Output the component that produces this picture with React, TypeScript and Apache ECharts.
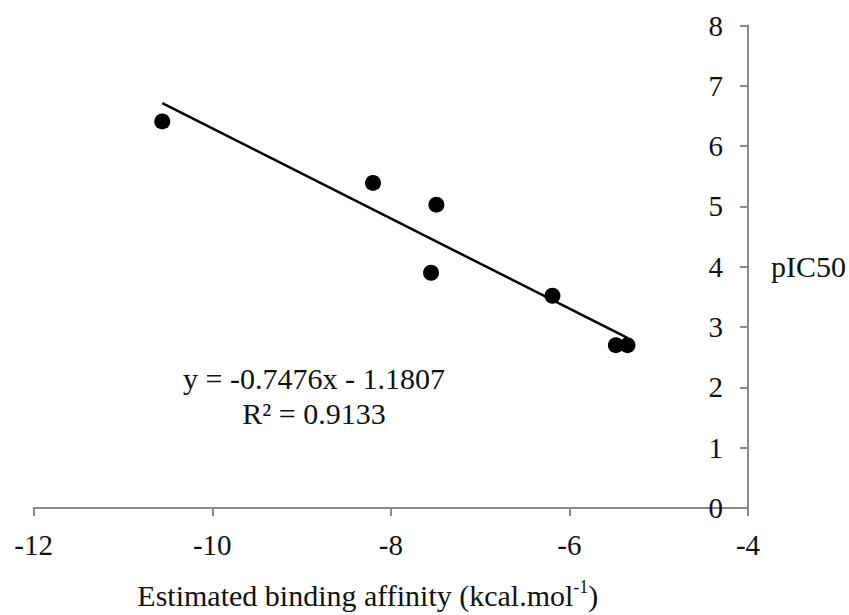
import React, { useEffect, useRef } from "react";
import * as echarts from "echarts";

const affinity = [-10.56, -8.2, -7.49, -7.55, -6.19, -5.48, -5.35];
const pIC50 = [6.41, 5.39, 5.03, 3.9, 3.52, 2.7, 2.7];
const xTicks = { min: -12, max: -4, interval: 2 };
const yTicks = { min: 0, max: 8, interval: 1 };
const trendSlope = -0.7476;
const trendIntercept = -1.1807;
const equationText = "y = -0.7476x - 1.1807";
const r2Text = "R² = 0.9133";

const FONT = '"Liberation Serif", "Times New Roman", serif';
const AXIS_COLOR = "#8a8a8a";
const TEXT_COLOR = "#111111";

export default function App() {
  const ref = useRef<HTMLDivElement>(null);
  useEffect(() => {
    if (!ref.current) return;
    const chart = echarts.init(ref.current, undefined, { renderer: "svg" });
    const xMin = Math.min(...affinity);
    const xMax = Math.max(...affinity);
    const trend = [
      [xMin, trendSlope * xMin + trendIntercept],
      [xMax, trendSlope * xMax + trendIntercept],
    ];
    chart.setOption({
      animation: false,
      backgroundColor: "#ffffff",
      grid: { left: 33.7, right: 100, top: 25.5, bottom: 103.3, containLabel: false },
      xAxis: {
        type: "value",
        min: xTicks.min,
        max: xTicks.max,
        interval: xTicks.interval,
        splitLine: { show: false },
        axisLine: { onZero: false, lineStyle: { color: AXIS_COLOR, width: 2 } },
        axisTick: { length: 8, lineStyle: { color: AXIS_COLOR, width: 2 } },
        axisLabel: { fontSize: 29, margin: 22, color: TEXT_COLOR, fontFamily: FONT },
        name: "{m|Estimated binding affinity (kcal.mol}{s|-1}{m|)}",
        nameLocation: "middle",
        nameGap: 70,
        nameTextStyle: {
          padding: [0, 46, 0, 0],
          rich: {
            m: { fontSize: 30, fontFamily: FONT, color: TEXT_COLOR, lineHeight: 34 },
            s: { fontSize: 18, fontFamily: FONT, color: TEXT_COLOR, lineHeight: 18, verticalAlign: "top" },
          },
        },
      },
      yAxis: {
        type: "value",
        position: "right",
        min: yTicks.min,
        max: yTicks.max,
        interval: yTicks.interval,
        splitLine: { show: false },
        axisLine: { onZero: false, lineStyle: { color: AXIS_COLOR, width: 2 } },
        axisTick: { inside: true, length: 8, lineStyle: { color: AXIS_COLOR, width: 2 } },
        axisLabel: { inside: true, fontSize: 29, margin: 25, color: TEXT_COLOR, fontFamily: FONT },
        name: "pIC50",
        nameLocation: "middle",
        nameRotate: 0,
        nameGap: 23,
        nameTextStyle: { fontSize: 30, fontFamily: FONT, color: TEXT_COLOR, align: "left" },
      },
      series: [
        {
          type: "line",
          data: trend,
          showSymbol: false,
          symbol: "none",
          lineStyle: { color: "#000000", width: 2.5 },
          z: 2,
        },
        {
          type: "scatter",
          data: affinity.map((x, i) => [x, pIC50[i]]),
          symbol: "circle",
          symbolSize: 16,
          itemStyle: { color: "#000000", opacity: 1 },
          z: 3,
        },
      ],
      graphic: [
        {
          type: "text",
          x: 314,
          y: 378,
          style: {
            text: equationText,
            fontSize: 30,
            fontFamily: FONT,
            fill: TEXT_COLOR,
            align: "center",
            verticalAlign: "middle",
          },
        },
        {
          type: "text",
          x: 314,
          y: 413,
          style: {
            text: r2Text,
            fontSize: 30,
            fontFamily: FONT,
            fill: TEXT_COLOR,
            align: "center",
            verticalAlign: "middle",
          },
        },
      ],
    });
    return () => chart.dispose();
  }, []);
  return (
    <div
      ref={ref}
      style={{ position: "fixed", left: 0, top: 0, width: 849, height: 615, background: "#fff" }}
    />
  );
}
